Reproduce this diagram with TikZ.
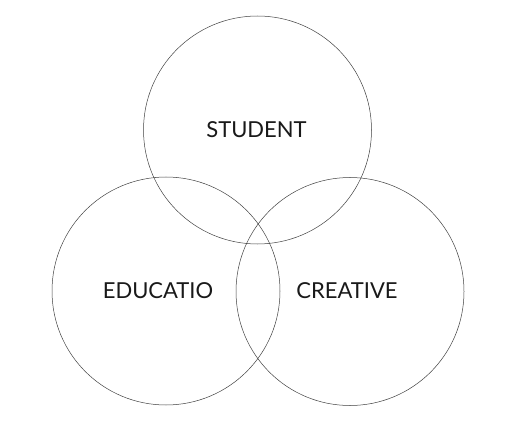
\documentclass[tikz,border=0pt]{standalone}
\usepackage{fontspec}
\setmainfont{Lato}
\usepackage{tikz}
\usetikzlibrary{positioning}
\tikzstyle{ring} = [circle, draw=black!75, line width=0.5pt, minimum size=228pt, inner sep=0pt]
\tikzstyle{title} = [font=\fontsize{22}{22}\selectfont, text=black!90, inner sep=0pt]

\begin{document}
\begin{tikzpicture}[x=1pt, y=-1pt]
\useasboundingbox (0,0) rectangle (526,427);

% Circles
\node (student) [ring] at (257.5,130) {};
\node (education) [ring] at (166,291) {};
\node (creative) [ring] at (350,291.5) {};

% Labels
\node (student_text) [title] at (256.5,130) {STUDENT};
\node (education_text) [title] at (158,291) {EDUCATIO};
\node (creative_text) [title] at (347,291) {CREATIVE};

\end{tikzpicture}
\end{document}
